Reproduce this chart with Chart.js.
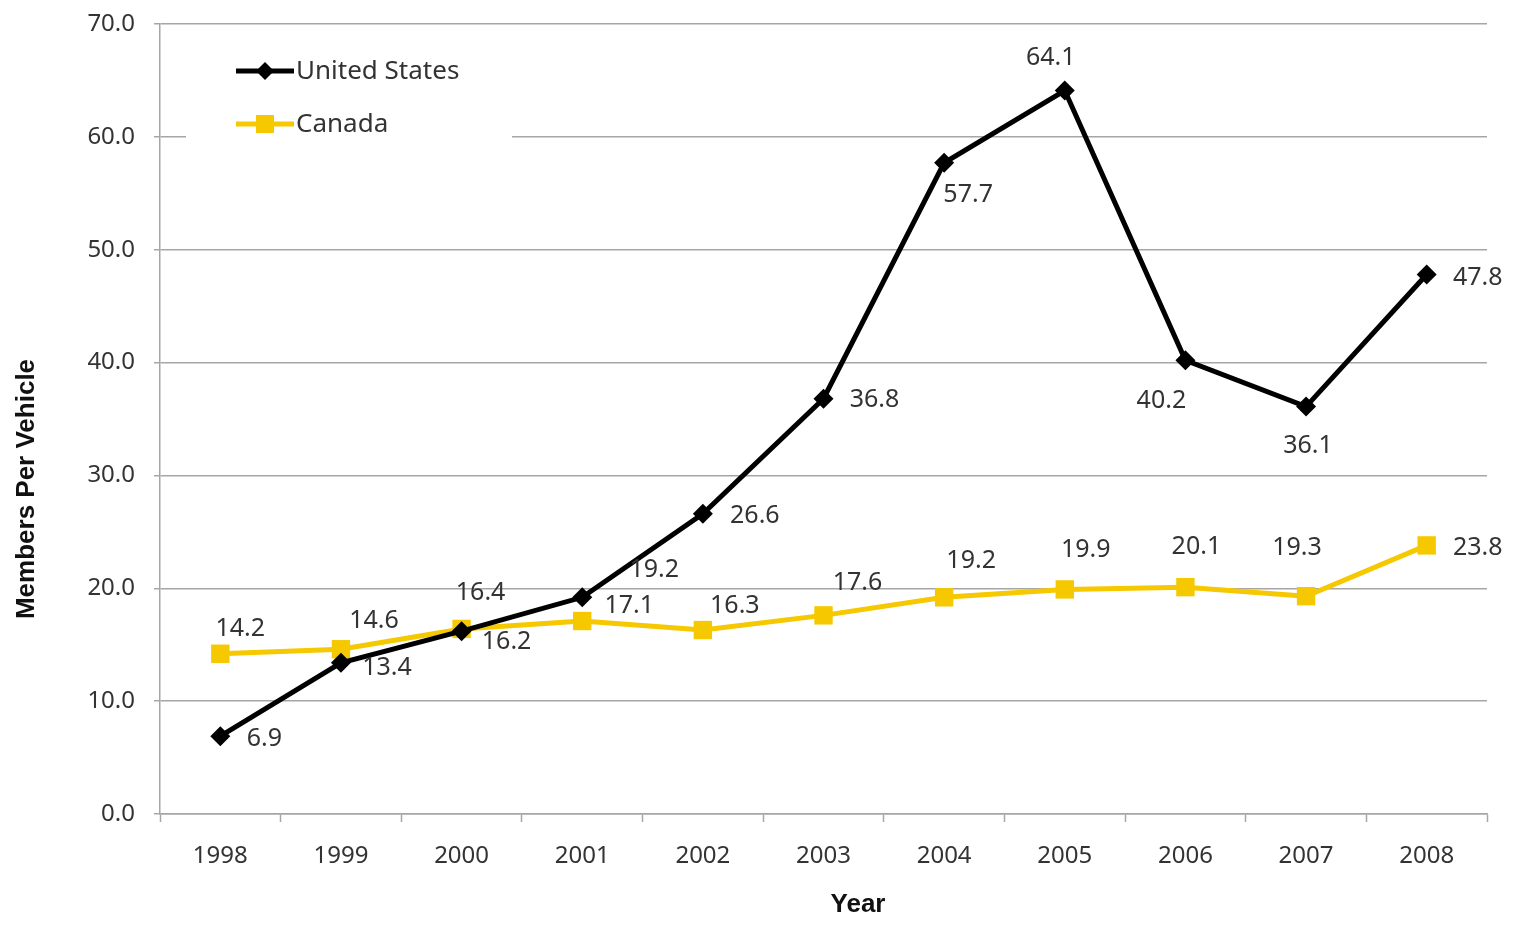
<!DOCTYPE html>
<html>
<head>
<meta charset="utf-8">
<script src="https://cdn.jsdelivr.net/npm/chart.js@4.4.1/dist/chart.umd.min.js"></script>
<style>
  body { margin: 0; background: #fff; }
  #wrap { width: 1513px; height: 927px; }
</style>
</head>
<body>
<div id="wrap"><canvas id="membersChart" width="1513" height="927"></canvas></div>
<script>
const years = ['1998', '1999', '2000', '2001', '2002', '2003', '2004', '2005', '2006', '2007', '2008'];
const usValues = [6.9, 13.4, 16.2, 19.2, 26.6, 36.8, 57.7, 64.1, 40.2, 36.1, 47.8];
const canadaValues = [14.2, 14.6, 16.4, 17.1, 16.3, 17.6, 19.2, 19.9, 20.1, 19.3, 23.8];

// where each value label sits relative to its point (px)
const usLabelOffsets = [[44, 3], [46, 5], [45, 11], [72, -27], [52, 2], [51, 1], [24, 32], [-14, -33], [-24, 41], [2, 39], [51, 3]];
const canadaLabelOffsets = [[20, -25], [33, -28], [19, -36], [47, -15], [32, -24], [34, -32], [27, -36], [21, -40], [11, -40], [-9, -48], [51, 2]];

const YELLOW = '#F5C800';
const GRID = '#a6a6a6';
const TEXT = '#333333';
const FONT = '"Noto Sans", Lato, sans-serif';

const extras = {
    id: 'extras',
    beforeDatasetsDraw(chart) {
        const ctx = chart.ctx;
        ctx.save();
        // legend box covers the gridline behind it
        ctx.fillStyle = '#fff';
        ctx.fillRect(186, 44, 326, 106);

        const items = [
            { text: 'United States', color: '#000', y: 71, shape: 'diamond' },
            { text: 'Canada', color: YELLOW, y: 124, shape: 'square' }
        ];
        items.forEach(it => {
            ctx.strokeStyle = it.color;
            ctx.lineWidth = 5;
            ctx.beginPath();
            ctx.moveTo(236, it.y);
            ctx.lineTo(294, it.y);
            ctx.stroke();
            ctx.fillStyle = it.color;
            if (it.shape === 'diamond') {
                ctx.beginPath();
                ctx.moveTo(265, it.y - 9);
                ctx.lineTo(274, it.y);
                ctx.lineTo(265, it.y + 9);
                ctx.lineTo(256, it.y);
                ctx.closePath();
                ctx.fill();
            } else {
                ctx.fillRect(256, it.y - 9, 18, 18);
            }
            ctx.fillStyle = TEXT;
            ctx.font = '26px ' + FONT;
            ctx.textAlign = 'left';
            ctx.textBaseline = 'middle';
            ctx.fillText(it.text, 296, it.y + 1);
        });

        // axis titles
        ctx.fillStyle = '#111';
        ctx.font = 'bold 26px "Liberation Sans", Arial, sans-serif';
        ctx.textAlign = 'center';
        ctx.textBaseline = 'middle';
        ctx.fillText('Year', 858, 905);
        ctx.translate(27, 489);
        ctx.rotate(-Math.PI / 2);
        ctx.fillText('Members Per Vehicle', 0, 0);
        ctx.restore();
    },
    afterDatasetsDraw(chart) {
        const ctx = chart.ctx;
        const offsets = [usLabelOffsets, canadaLabelOffsets];
        ctx.save();
        ctx.fillStyle = TEXT;
        ctx.font = '25px ' + FONT;
        ctx.textAlign = 'center';
        ctx.textBaseline = 'middle';
        chart.data.datasets.forEach((ds, di) => {
            chart.getDatasetMeta(di).data.forEach((pt, i) => {
                const o = offsets[di][i];
                ctx.fillText(ds.data[i].toFixed(1), pt.x + o[0], pt.y + o[1]);
            });
        });
        ctx.restore();
    }
};

new Chart(document.getElementById('membersChart').getContext('2d'), {
    type: 'line',
    data: {
        labels: years,
        datasets: [
            {
                label: 'United States',
                data: usValues,
                borderColor: '#000',
                backgroundColor: '#000',
                borderWidth: 5,
                pointStyle: 'rectRot',
                pointRadius: 10,
                pointBorderWidth: 0,
                tension: 0
            },
            {
                label: 'Canada',
                data: canadaValues,
                borderColor: YELLOW,
                backgroundColor: YELLOW,
                borderWidth: 5,
                pointStyle: 'rect',
                pointRadius: 13,
                pointBorderWidth: 0,
                tension: 0
            }
        ]
    },
    options: {
        responsive: false,
        animation: false,
        layout: { padding: { left: 0, right: 26, top: 24, bottom: 0 } },
        plugins: {
            legend: { display: false },
            tooltip: { enabled: false }
        },
        scales: {
            x: {
                offset: true,
                afterFit: s => { s.height = 113; s.paddingTop = 0; },
                grid: { offset: true, drawOnChartArea: false, tickLength: 8, tickColor: GRID, tickWidth: 1.5 },
                border: { color: GRID, width: 1.5 },
                ticks: { color: TEXT, font: { family: FONT, size: 24 }, padding: 20 }
            },
            y: {
                min: 0,
                max: 70,
                afterFit: s => { s.width = 160; s.paddingTop = 0; s.paddingBottom = 0; },
                grid: { color: GRID, lineWidth: 1.5, tickLength: 6 },
                border: { color: GRID, width: 1.5 },
                ticks: {
                    stepSize: 10,
                    color: TEXT,
                    padding: 19,
                    font: { family: FONT, size: 24 },
                    callback: v => v.toFixed(1)
                }
            }
        }
    },
    plugins: [extras]
});
</script>
</body>
</html>
